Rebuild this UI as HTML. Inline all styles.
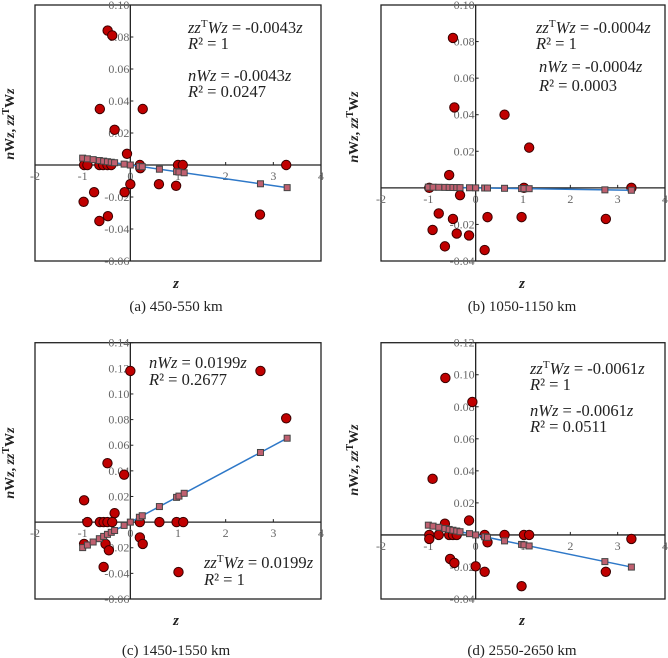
<!DOCTYPE html>
<html><head><meta charset="utf-8"><style>
html,body{margin:0;padding:0;background:#fff;width:668px;height:658px;overflow:hidden}
svg{display:block}
text{font-family:"Liberation Serif",serif}
</style></head><body>
<svg id="chart" width="668" height="658" xmlns="http://www.w3.org/2000/svg"></svg>
<script>
const squareZ = [-1,-0.9,-0.78,-0.65,-0.56,-0.48,-0.4,-0.33,-0.13,0,0.19,0.25,0.61,0.97,1.02,1.13,2.73,3.29];
const slopeA = -0.0043, slopeB = -0.0004, slopeC = 0.0199, slopeD = -0.0061;
const xTicks = [-2,-1,0,1,2,3,4];
const yTicksA = [0.10,0.08,0.06,0.04,0.02,-0.02,-0.04,-0.06];
const yTicksB = [0.10,0.08,0.06,0.04,0.02,-0.02,-0.04];
const yTicksC = [0.14,0.12,0.10,0.08,0.06,0.04,0.02,-0.02,-0.04,-0.06];
const yTicksD = [0.12,0.10,0.08,0.06,0.04,0.02,-0.02,-0.04];
const circAx = [-0.476,-0.38,-0.64,-0.33,-0.07,0.26,-0.97,-0.9,-0.65,-0.57,-0.48,-0.4,0.2,0.21,1.0,1.1,3.27,-0.98,-0.76,-0.65,-0.47,-0.12,0,0.6,0.96,2.72];
const circAy = [0.084,0.081,0.035,0.022,0.007,0.035,0,0,0,0,0,0,0,-0.002,0,0,0,-0.023,-0.017,-0.035,-0.032,-0.017,-0.012,-0.012,-0.013,-0.031];
const circBx = [-0.48,-0.45,0.61,1.13,-0.56,-0.33,-0.78,-0.48,-0.91,-0.40,-0.65,-0.14,0.19,0.25,0.97,2.75,-0.98,1.02,3.29];
const circBy = [0.082,0.044,0.040,0.022,0.007,-0.004,-0.014,-0.017,-0.023,-0.025,-0.032,-0.026,-0.034,-0.016,-0.016,-0.017,0,0,0];
const circCx = [0,2.73,3.27,-0.48,-0.13,-0.97,-0.33,-0.9,-0.64,-0.56,-0.48,-0.38,0.2,0.61,0.97,1.11,0.2,0.26,-0.97,-0.52,-0.45,-0.56,1.01];
const circCy = [0.118,0.118,0.081,0.046,0.037,0.017,0.007,0,0,0,0,0,0,0,0,0,-0.012,-0.017,-0.017,-0.017,-0.022,-0.035,-0.039];
const circDx = [-0.64,-0.07,-0.91,-0.14,-0.65,-0.98,-0.78,-0.56,-0.48,-0.40,0.19,0.61,1.02,1.13,-0.98,0.25,-0.54,-0.45,0,0.19,0.97,2.75,3.29];
const circDy = [0.098,0.083,0.035,0.009,0.007,0,0,0,0,0,0,0,0,0,-0.0025,-0.0046,-0.015,-0.0175,-0.0196,-0.023,-0.032,-0.023,-0.0025];

const NS="http://www.w3.org/2000/svg";
const svg=document.getElementById('chart');
function mk(tag,attrs,parent){const e=document.createElementNS(NS,tag);for(const k in attrs)e.setAttribute(k,attrs[k]);(parent||svg).appendChild(e);return e;}

function panel(p){
  const g=mk('g',{});
  
  
  const sx=z=>p.L+(z-(-2))/6*(p.R-p.L);
  const sy=v=>p.T+(p.ymax-v)/(p.ymax-p.ymin)*(p.B-p.T);
  const f=mk('rect',{x:p.L,y:p.T,width:p.R-p.L,height:p.B-p.T,fill:'none',stroke:'#222','stroke-width':1.3},g);
  
  
  const x0=sx(0),y0=sy(0);
  const xa=mk('line',{x1:p.L,x2:p.R,y1:y0,y2:y0,stroke:'#222','stroke-width':1.3},g);
  
  
  const ya=mk('line',{x1:x0,x2:x0,y1:p.T,y2:p.B,stroke:'#222','stroke-width':1.3},g);
  
  
  xTicks.forEach(t=>{
    mk('line',{x1:sx(t),x2:sx(t),y1:y0-3,y2:y0,stroke:'#222','stroke-width':1},g);
    const tx=mk('text',{x:sx(t),y:y0+15,'font-size':12,fill:'#666','text-anchor':'middle'},g);
    tx.textContent=t;
    
    
  });
  p.yt.forEach(t=>{
    mk('line',{x1:x0,x2:x0+3,y1:sy(t),y2:sy(t),stroke:'#222','stroke-width':1},g);
    const tx=mk('text',{x:x0-1,y:sy(t)+4,'font-size':12,fill:'#666','text-anchor':'end'},g);
    tx.textContent=t.toFixed(2);
    
    
  });
  p.cx.forEach((z,i)=>{
    const c=mk('circle',{cx:sx(z),cy:sy(p.cy[i]),r:4.7,fill:'#c00000',stroke:'#3a0000','stroke-width':1},g);
    
    
  });
  const zmin=Math.min(...squareZ),zmax=Math.max(...squareZ);
  const ln=mk('line',{x1:sx(zmin),y1:sy(p.s*zmin),x2:sx(zmax),y2:sy(p.s*zmax),stroke:'#2e78c8','stroke-width':1.5},g);
  
  
  squareZ.forEach(z=>{
    const r=mk('rect',{x:sx(z)-3,y:sy(p.s*z)-3,width:6,height:6,fill:'#c06070',stroke:'#444','stroke-width':1},g);
    
    
  });
  p.ann.forEach(a=>{
    const t=mk('text',{x:a[0],y:a[1],'font-size':16.5,fill:'#222'},g);
    t.innerHTML=a[2];
    
    
  });
  const yt=mk('text',{transform:`translate(${p.ytx},${p.yty}) rotate(-90)`,'font-size':14,'font-weight':'bold','text-anchor':'middle',fill:'#222'},g);
  yt.innerHTML='<tspan font-style="italic">n</tspan>W<tspan font-style="italic">z</tspan>, <tspan font-style="italic">zz</tspan><tspan font-size="10" dy="-5">T</tspan><tspan dy="5">W</tspan><tspan font-style="italic">z</tspan>';
  
  
  const xt=mk('text',{x:p.xtx,y:p.xty,'font-size':15,'font-style':'italic','font-weight':'bold','text-anchor':'middle',fill:'#222'},g);
  xt.textContent='z';
  
  
  const cap=mk('text',{x:p.xtx,y:p.capy,'font-size':15,'text-anchor':'middle',fill:'#222'},g);
  cap.textContent=p.cap;
  
  
}
const zz=v=>'<tspan font-style="italic">zz</tspan><tspan font-size="11" dy="-6">T</tspan><tspan dy="6" font-style="italic">Wz</tspan> = '+v+'<tspan font-style="italic">z</tspan>';
const nw=v=>'<tspan font-style="italic">nWz</tspan> = '+v+'<tspan font-style="italic">z</tspan>';
const r2=v=>'<tspan font-style="italic">R</tspan>² = '+v;
panel({id:'a',L:35,R:321,T:5,B:261,ymin:-0.06,ymax:0.10,yt:yTicksA,cx:circAx,cy:circAy,s:slopeA,
  ann:[[188,33,zz('-0.0043')],[188,49,r2('1')],[188,81,nw('-0.0043')],[188,97,r2('0.0247')]],
  ytx:14,yty:124,xtx:176,xty:288,capy:311,cap:'(a) 450-550 km'});
panel({id:'b',L:381,R:665,T:5,B:261,ymin:-0.04,ymax:0.10,yt:yTicksB,cx:circBx,cy:circBy,s:slopeB,
  ann:[[536,33,zz('-0.0004')],[536,49,r2('1')],[539,72,nw('-0.0004')],[539,91,r2('0.0003')]],
  ytx:358,yty:127,xtx:522,xty:288,capy:311,cap:'(b) 1050-1150 km'});
panel({id:'c',L:35,R:321,T:342.7,B:599,ymin:-0.06,ymax:0.14,yt:yTicksC,cx:circCx,cy:circCy,s:slopeC,
  ann:[[149,368,nw('0.0199')],[149,385,r2('0.2677')],[204,568,zz('0.0199')],[204,585,r2('1')]],
  ytx:14,yty:463,xtx:176,xty:625,capy:655,cap:'(c) 1450-1550 km'});
panel({id:'d',L:381,R:665,T:342.7,B:599,ymin:-0.04,ymax:0.12,yt:yTicksD,cx:circDx,cy:circDy,s:slopeD,
  ann:[[530,374,zz('-0.0061')],[530,390,r2('1')],[530,416,nw('-0.0061')],[530,432,r2('0.0511')]],
  ytx:358,yty:460,xtx:522,xty:625,capy:655,cap:'(d) 2550-2650 km'});
</script>
</body></html>
